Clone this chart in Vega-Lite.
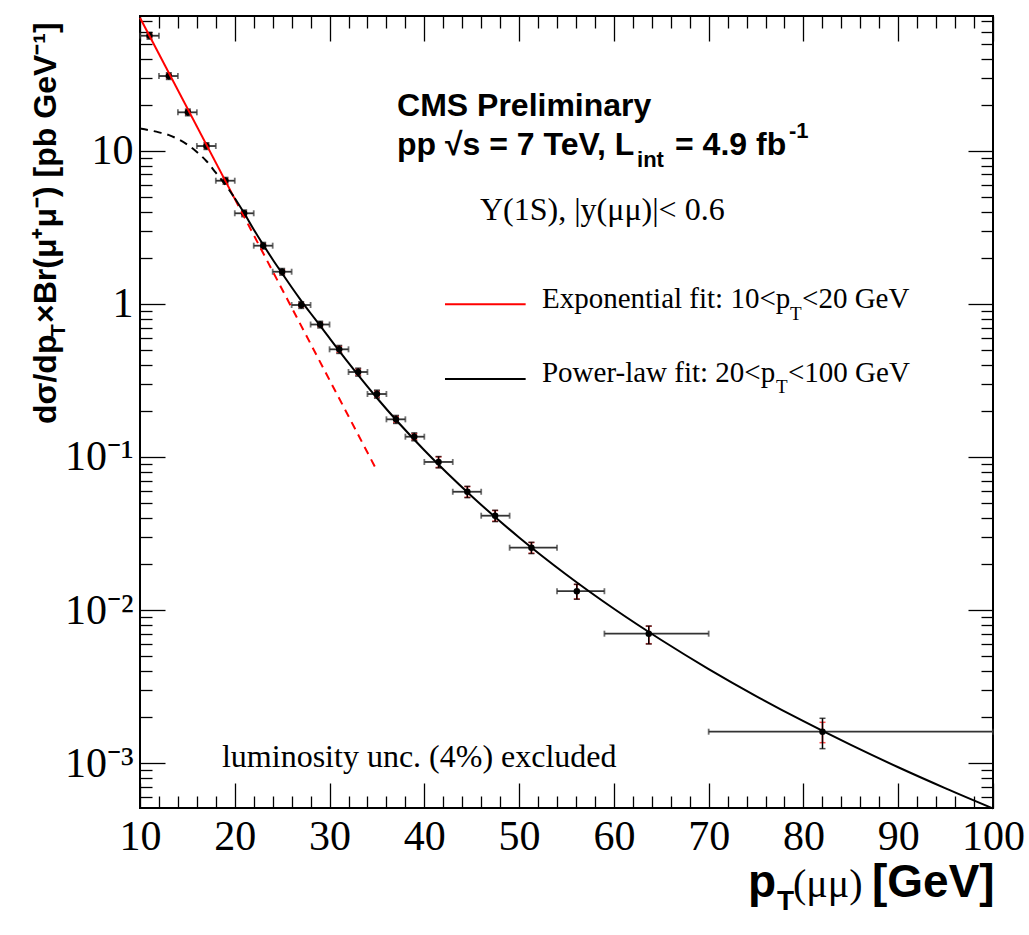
{
  "$schema": "https://vega.github.io/schema/vega-lite/v6.json",
  "width": 853,
  "height": 792,
  "autosize": {"type": "none"},
  "padding": {"left": 140, "top": 16, "right": 36, "bottom": 127},
  "background": "white",
  "config": {
    "view": {"stroke": "black", "strokeWidth": 2},
    "axis": {"grid": false, "domain": false, "tickColor": "black", "tickWidth": 1.3, "labelColor": "black", "labelFont": "Liberation Serif", "labelFontSize": 42, "labelOverlap": false, "labelFlush": false, "labelBound": false}
  },
  "datasets": {
    "pts": [
      {"x": 11.0, "xlo": 10, "xhi": 12, "y": 56.35, "ylo": 53.53, "yhi": 59.17, "slo": 54.66, "shi": 58.04},
      {"x": 13.04, "xlo": 12, "xhi": 14, "y": 30.74, "ylo": 29.2, "yhi": 32.28, "slo": 29.82, "shi": 31.66},
      {"x": 15.05, "xlo": 14, "xhi": 16, "y": 17.81, "ylo": 16.92, "yhi": 18.7, "slo": 17.28, "shi": 18.34},
      {"x": 17.01, "xlo": 16, "xhi": 18, "y": 10.73, "ylo": 10.19, "yhi": 11.27, "slo": 10.41, "shi": 11.05},
      {"x": 19.02, "xlo": 18, "xhi": 20, "y": 6.37, "ylo": 6.05, "yhi": 6.69, "slo": 6.18, "shi": 6.56},
      {"x": 20.99, "xlo": 20, "xhi": 22, "y": 3.903, "ylo": 3.708, "yhi": 4.098, "slo": 3.786, "shi": 4.02},
      {"x": 23.0, "xlo": 22, "xhi": 24, "y": 2.398, "ylo": 2.278, "yhi": 2.518, "slo": 2.326, "shi": 2.47},
      {"x": 25.0, "xlo": 24, "xhi": 26, "y": 1.621, "ylo": 1.54, "yhi": 1.702, "slo": 1.572, "shi": 1.67},
      {"x": 27.01, "xlo": 26, "xhi": 28, "y": 0.9829, "ylo": 0.9338, "yhi": 1.032, "slo": 0.9534, "shi": 1.0124},
      {"x": 29.01, "xlo": 28, "xhi": 30, "y": 0.733, "ylo": 0.6964, "yhi": 0.7697, "slo": 0.711, "shi": 0.755},
      {"x": 31.02, "xlo": 30, "xhi": 32, "y": 0.5048, "ylo": 0.4745, "yhi": 0.5351, "slo": 0.4821, "shi": 0.5275},
      {"x": 33.02, "xlo": 32, "xhi": 34, "y": 0.3589, "ylo": 0.3374, "yhi": 0.3804, "slo": 0.3428, "shi": 0.3751},
      {"x": 35.0, "xlo": 34, "xhi": 36, "y": 0.2578, "ylo": 0.2423, "yhi": 0.2733, "slo": 0.2462, "shi": 0.2694},
      {"x": 37.01, "xlo": 36, "xhi": 38, "y": 0.1762, "ylo": 0.1656, "yhi": 0.1868, "slo": 0.1683, "shi": 0.1841},
      {"x": 38.94, "xlo": 38, "xhi": 40, "y": 0.1357, "ylo": 0.1276, "yhi": 0.1438, "slo": 0.1296, "shi": 0.1418},
      {"x": 41.5, "xlo": 40, "xhi": 43, "y": 0.0928, "ylo": 0.0849, "yhi": 0.1007, "slo": 0.0854, "shi": 0.1002},
      {"x": 44.54, "xlo": 43, "xhi": 46, "y": 0.0593, "ylo": 0.05426, "yhi": 0.06434, "slo": 0.05456, "shi": 0.06404},
      {"x": 47.47, "xlo": 46, "xhi": 49, "y": 0.04137, "ylo": 0.03785, "yhi": 0.04489, "slo": 0.03806, "shi": 0.04468},
      {"x": 51.3, "xlo": 49, "xhi": 54, "y": 0.02557, "ylo": 0.0234, "yhi": 0.02774, "slo": 0.02352, "shi": 0.02762},
      {"x": 56.09, "xlo": 54, "xhi": 59, "y": 0.01329, "ylo": 0.01178, "yhi": 0.01475, "slo": 0.01183, "shi": 0.01471},
      {"x": 63.68, "xlo": 59, "xhi": 70, "y": 0.007019, "ylo": 0.00601, "yhi": 0.00788, "slo": 0.00604, "shi": 0.00785},
      {"x": 82.01, "xlo": 70, "xhi": 100, "y": 0.001608, "ylo": 0.001246, "yhi": 0.001967, "slo": 0.001363, "shi": 0.001852}
    ],
    "powlo": [
      {"x": 10, "y": 13.96}, {"x": 11, "y": 13.61}, {"x": 12, "y": 13.18}, {"x": 13, "y": 12.68},
      {"x": 14, "y": 11.91}, {"x": 15, "y": 10.96}, {"x": 16, "y": 9.82}, {"x": 17, "y": 8.57},
      {"x": 18, "y": 7.18}, {"x": 19, "y": 6.01}, {"x": 20, "y": 4.9}
    ],
    "powhi": [
      {"x": 20, "y": 4.9}, {"x": 21, "y": 3.908}, {"x": 22, "y": 3.062}, {"x": 23, "y": 2.432},
      {"x": 24, "y": 1.95}, {"x": 25, "y": 1.581}, {"x": 26, "y": 1.284}, {"x": 27, "y": 1.051},
      {"x": 28, "y": 0.8683}, {"x": 29, "y": 0.7211}, {"x": 30, "y": 0.597}, {"x": 32, "y": 0.4116},
      {"x": 35, "y": 0.2428}, {"x": 40, "y": 0.1107}, {"x": 45, "y": 0.05545}, {"x": 50, "y": 0.02983},
      {"x": 55, "y": 0.01703}, {"x": 60, "y": 0.01021}, {"x": 65, "y": 0.006383}, {"x": 70, "y": 0.004125},
      {"x": 75, "y": 0.002749}, {"x": 80, "y": 0.001882}, {"x": 85, "y": 0.001318}, {"x": 90, "y": 0.000942},
      {"x": 95, "y": 0.000686}, {"x": 100, "y": 0.000507}
    ],
    "expsolid": [{"x": 10, "y": 73.8}, {"x": 20, "y": 4.85}],
    "expdash": [{"x": 20, "y": 4.85}, {"x": 35, "y": 0.0815}],
    "legexp": [{"x": 42.18, "x2": 50.69, "y": 0.9932}],
    "legpow": [{"x": 42.18, "x2": 50.69, "y": 0.3231}],
    "txtbold": [
      {"x": 37.12, "y": 16.85, "t": "CMS Preliminary"},
      {"x": 37.12, "y": 9.374, "t": "pp √s = 7 TeV, L"},
      {"x": 66.45, "y": 9.374, "t": "= 4.9 fb"}
    ],
    "txtboldsmall": [
      {"x": 62.44, "y": 7.83, "t": "int"},
      {"x": 78.47, "y": 12.1, "t": "-1"}
    ],
    "txtserif": [
      {"x": 52.41, "y": 0.9352, "t": "Exponential fit: 10<p"},
      {"x": 79.85, "y": 0.9352, "t": "<20 GeV"},
      {"x": 52.41, "y": 0.3102, "t": "Power-law fit: 20<p"},
      {"x": 78.37, "y": 0.3102, "t": "<100 GeV"}
    ],
    "txtserifbig": [
      {"x": 45.87, "y": 3.527, "t": "Υ(1S), |y(μμ)|< 0.6"},
      {"x": 18.65, "y": 0.000946, "t": "luminosity unc. (4%) excluded"}
    ],
    "txtserifsub": [
      {"x": 78.58, "y": 0.7844, "t": "T"},
      {"x": 77.1, "y": 0.2617, "t": "T"}
    ],
    "xtitlebold": [
      {"x": 74.15, "y": 0.000134, "t": "p"},
      {"x": 87.23, "y": 0.000134, "t": "[GeV]"}
    ],
    "xtitlesub": [{"x": 77.21, "y": 0.00011, "t": "T"}],
    "xtitleserif": [{"x": 78.9, "y": 0.000134, "t": "(μμ)"}],
    "ytitle": [
      {"x": 1.137, "y": 0.1643, "t": "dσ/dp"},
      {"x": 1.137, "y": 0.7499, "t": "×Br(μ⁺μ⁻) [pb GeV⁻¹]"}
    ],
    "ytitlesub": [{"x": 2.087, "y": 0.6074, "t": "T"}]
  },
  "resolve": {"axis": {"x": "independent", "y": "independent"}},
  "layer": [
    {
      "data": {"name": "pts"},
      "mark": {"type": "errorbar", "ticks": true, "size": 6, "thickness": 1.5, "color": "#ff0000"},
      "encoding": {
        "x": {"field": "x", "type": "quantitative", "scale": {"type": "linear", "domain": [10, 100], "nice": false, "zero": false}, "axis": null},
        "y": {"field": "slo", "type": "quantitative", "scale": {"type": "log", "domain": [0.0005105, 75.8], "nice": false}, "axis": null},
        "y2": {"field": "shi"}
      }
    },
    {
      "data": {"name": "pts"},
      "mark": {"type": "errorbar", "ticks": true, "size": 6, "thickness": 1.5, "color": "black"},
      "encoding": {
        "x": {"field": "x", "type": "quantitative", "scale": {"type": "linear", "domain": [10, 100], "nice": false, "zero": false}, "axis": null},
        "y": {"field": "ylo", "type": "quantitative", "scale": {"type": "log", "domain": [0.0005105, 75.8], "nice": false}, "axis": null},
        "y2": {"field": "yhi"}
      }
    },
    {
      "data": {"name": "pts"},
      "mark": {"type": "errorbar", "ticks": true, "size": 6, "thickness": 1.8, "color": "#333333"},
      "encoding": {
        "x": {"field": "xlo", "type": "quantitative", "scale": {"type": "linear", "domain": [10, 100], "nice": false, "zero": false}, "axis": null},
        "x2": {"field": "xhi"},
        "y": {"field": "y", "type": "quantitative", "scale": {"type": "log", "domain": [0.0005105, 75.8], "nice": false}, "axis": null}
      }
    },
    {
      "data": {"name": "pts"},
      "mark": {"type": "point", "filled": true, "shape": "circle", "size": 42, "color": "black", "opacity": 1},
      "encoding": {
        "x": {"field": "x", "type": "quantitative", "scale": {"type": "linear", "domain": [10, 100], "nice": false, "zero": false},
              "axis": {"orient": "bottom", "values": [10, 20, 30, 40, 50, 60, 70, 80, 90, 100], "tickSize": -25, "labelPadding": 33, "title": null}},
        "y": {"field": "y", "type": "quantitative", "scale": {"type": "log", "domain": [0.0005105, 75.8], "nice": false},
              "axis": {"orient": "left", "values": [0.001, 0.01, 0.1, 1, 10], "tickSize": -25, "labelPadding": 32, "labelAlign": "right", "labelBaseline": "middle", "title": null,
                       "labelExpr": "datum.value >= 5 ? '10' : datum.value >= 0.5 ? '1' : datum.value >= 0.05 ? '10⁻¹' : datum.value >= 0.005 ? '10⁻²' : '10⁻³'"}}
      }
    },
    {
      "data": {"name": "expsolid"},
      "mark": {"type": "line", "color": "#ff0000", "strokeWidth": 2},
      "encoding": {
        "x": {"field": "x", "type": "quantitative", "scale": {"type": "linear", "domain": [10, 100], "nice": false, "zero": false},
              "axis": {"orient": "bottom", "values": [12, 14, 16, 18, 22, 24, 26, 28, 32, 34, 36, 38, 42, 44, 46, 48, 52, 54, 56, 58, 62, 64, 66, 68, 72, 74, 76, 78, 82, 84, 86, 88, 92, 94, 96, 98], "tickSize": -12, "labels": false, "title": null}},
        "y": {"field": "y", "type": "quantitative", "scale": {"type": "log", "domain": [0.0005105, 75.8], "nice": false},
              "axis": {"orient": "left", "values": [0.0006, 0.0007, 0.0008, 0.0009, 0.002, 0.003, 0.004, 0.005, 0.006, 0.007, 0.008, 0.009, 0.02, 0.03, 0.04, 0.05, 0.06, 0.07, 0.08, 0.09, 0.2, 0.3, 0.4, 0.5, 0.6, 0.7, 0.8, 0.9, 2, 3, 4, 5, 6, 7, 8, 9, 20, 30, 40, 50, 60, 70], "tickSize": -12, "labels": false, "title": null}}
      }
    },
    {
      "data": {"name": "expdash"},
      "mark": {"type": "line", "color": "#ff0000", "strokeWidth": 2, "strokeDash": [8, 6]},
      "encoding": {
        "x": {"field": "x", "type": "quantitative", "scale": {"type": "linear", "domain": [10, 100], "nice": false, "zero": false}, "axis": null},
        "y": {"field": "y", "type": "quantitative", "scale": {"type": "log", "domain": [0.0005105, 75.8], "nice": false}, "axis": null}
      }
    },
    {
      "data": {"name": "powlo"},
      "mark": {"type": "line", "color": "black", "strokeWidth": 2, "strokeDash": [8, 6], "interpolate": "monotone"},
      "encoding": {
        "x": {"field": "x", "type": "quantitative", "scale": {"type": "linear", "domain": [10, 100], "nice": false, "zero": false},
              "axis": {"orient": "top", "values": [12, 14, 16, 18, 22, 24, 26, 28, 32, 34, 36, 38, 42, 44, 46, 48, 52, 54, 56, 58, 62, 64, 66, 68, 72, 74, 76, 78, 82, 84, 86, 88, 92, 94, 96, 98], "tickSize": -12, "labels": false, "title": null}},
        "y": {"field": "y", "type": "quantitative", "scale": {"type": "log", "domain": [0.0005105, 75.8], "nice": false},
              "axis": {"orient": "right", "values": [0.0006, 0.0007, 0.0008, 0.0009, 0.002, 0.003, 0.004, 0.005, 0.006, 0.007, 0.008, 0.009, 0.02, 0.03, 0.04, 0.05, 0.06, 0.07, 0.08, 0.09, 0.2, 0.3, 0.4, 0.5, 0.6, 0.7, 0.8, 0.9, 2, 3, 4, 5, 6, 7, 8, 9, 20, 30, 40, 50, 60, 70], "tickSize": -12, "labels": false, "title": null}}
      }
    },
    {
      "data": {"name": "powhi"},
      "mark": {"type": "line", "color": "black", "strokeWidth": 2, "interpolate": "monotone"},
      "encoding": {
        "x": {"field": "x", "type": "quantitative", "scale": {"type": "linear", "domain": [10, 100], "nice": false, "zero": false},
              "axis": {"orient": "top", "values": [10, 20, 30, 40, 50, 60, 70, 80, 90, 100], "tickSize": -25, "labels": false, "title": null}},
        "y": {"field": "y", "type": "quantitative", "scale": {"type": "log", "domain": [0.0005105, 75.8], "nice": false},
              "axis": {"orient": "right", "values": [0.001, 0.01, 0.1, 1, 10], "tickSize": -25, "labels": false, "title": null}}
      }
    },
    {
      "data": {"name": "legexp"},
      "mark": {"type": "rule", "color": "#ff0000", "strokeWidth": 2},
      "encoding": {
        "x": {"field": "x", "type": "quantitative", "scale": {"type": "linear", "domain": [10, 100], "nice": false, "zero": false}, "axis": null},
        "x2": {"field": "x2"},
        "y": {"field": "y", "type": "quantitative", "scale": {"type": "log", "domain": [0.0005105, 75.8], "nice": false}, "axis": null}
      }
    },
    {
      "data": {"name": "legpow"},
      "mark": {"type": "rule", "color": "black", "strokeWidth": 2},
      "encoding": {
        "x": {"field": "x", "type": "quantitative", "scale": {"type": "linear", "domain": [10, 100], "nice": false, "zero": false}, "axis": null},
        "x2": {"field": "x2"},
        "y": {"field": "y", "type": "quantitative", "scale": {"type": "log", "domain": [0.0005105, 75.8], "nice": false}, "axis": null}
      }
    },
    {
      "data": {"name": "txtbold"},
      "mark": {"type": "text", "font": "Liberation Sans", "fontWeight": "bold", "fontSize": 32, "align": "left", "baseline": "alphabetic", "color": "black"},
      "encoding": {
        "x": {"field": "x", "type": "quantitative", "scale": {"type": "linear", "domain": [10, 100], "nice": false, "zero": false}, "axis": null},
        "y": {"field": "y", "type": "quantitative", "scale": {"type": "log", "domain": [0.0005105, 75.8], "nice": false}, "axis": null},
        "text": {"field": "t"}
      }
    },
    {
      "data": {"name": "txtboldsmall"},
      "mark": {"type": "text", "font": "Liberation Sans", "fontWeight": "bold", "fontSize": 22, "align": "left", "baseline": "alphabetic", "color": "black"},
      "encoding": {
        "x": {"field": "x", "type": "quantitative", "scale": {"type": "linear", "domain": [10, 100], "nice": false, "zero": false}, "axis": null},
        "y": {"field": "y", "type": "quantitative", "scale": {"type": "log", "domain": [0.0005105, 75.8], "nice": false}, "axis": null},
        "text": {"field": "t"}
      }
    },
    {
      "data": {"name": "txtserif"},
      "mark": {"type": "text", "font": "Liberation Serif", "fontSize": 29, "align": "left", "baseline": "alphabetic", "color": "black"},
      "encoding": {
        "x": {"field": "x", "type": "quantitative", "scale": {"type": "linear", "domain": [10, 100], "nice": false, "zero": false}, "axis": null},
        "y": {"field": "y", "type": "quantitative", "scale": {"type": "log", "domain": [0.0005105, 75.8], "nice": false}, "axis": null},
        "text": {"field": "t"}
      }
    },
    {
      "data": {"name": "txtserifbig"},
      "mark": {"type": "text", "font": "Liberation Serif", "fontSize": 32, "align": "left", "baseline": "alphabetic", "color": "black"},
      "encoding": {
        "x": {"field": "x", "type": "quantitative", "scale": {"type": "linear", "domain": [10, 100], "nice": false, "zero": false}, "axis": null},
        "y": {"field": "y", "type": "quantitative", "scale": {"type": "log", "domain": [0.0005105, 75.8], "nice": false}, "axis": null},
        "text": {"field": "t"}
      }
    },
    {
      "data": {"name": "txtserifsub"},
      "mark": {"type": "text", "font": "Liberation Serif", "fontSize": 19, "align": "left", "baseline": "alphabetic", "color": "black"},
      "encoding": {
        "x": {"field": "x", "type": "quantitative", "scale": {"type": "linear", "domain": [10, 100], "nice": false, "zero": false}, "axis": null},
        "y": {"field": "y", "type": "quantitative", "scale": {"type": "log", "domain": [0.0005105, 75.8], "nice": false}, "axis": null},
        "text": {"field": "t"}
      }
    },
    {
      "data": {"name": "xtitlebold"},
      "mark": {"type": "text", "font": "Liberation Sans", "fontWeight": "bold", "fontSize": 46, "align": "left", "baseline": "alphabetic", "color": "black"},
      "encoding": {
        "x": {"field": "x", "type": "quantitative", "scale": {"type": "linear", "domain": [10, 100], "nice": false, "zero": false}, "axis": null},
        "y": {"field": "y", "type": "quantitative", "scale": {"type": "log", "domain": [0.0005105, 75.8], "nice": false}, "axis": null},
        "text": {"field": "t"}
      }
    },
    {
      "data": {"name": "xtitlesub"},
      "mark": {"type": "text", "font": "Liberation Sans", "fontWeight": "bold", "fontSize": 28, "align": "left", "baseline": "alphabetic", "color": "black"},
      "encoding": {
        "x": {"field": "x", "type": "quantitative", "scale": {"type": "linear", "domain": [10, 100], "nice": false, "zero": false}, "axis": null},
        "y": {"field": "y", "type": "quantitative", "scale": {"type": "log", "domain": [0.0005105, 75.8], "nice": false}, "axis": null},
        "text": {"field": "t"}
      }
    },
    {
      "data": {"name": "xtitleserif"},
      "mark": {"type": "text", "font": "Liberation Serif", "fontSize": 40, "align": "left", "baseline": "alphabetic", "color": "black"},
      "encoding": {
        "x": {"field": "x", "type": "quantitative", "scale": {"type": "linear", "domain": [10, 100], "nice": false, "zero": false}, "axis": null},
        "y": {"field": "y", "type": "quantitative", "scale": {"type": "log", "domain": [0.0005105, 75.8], "nice": false}, "axis": null},
        "text": {"field": "t"}
      }
    },
    {
      "data": {"name": "ytitle"},
      "mark": {"type": "text", "font": "Liberation Sans", "fontWeight": "bold", "fontSize": 32, "align": "left", "baseline": "alphabetic", "angle": 270, "color": "black"},
      "encoding": {
        "x": {"field": "x", "type": "quantitative", "scale": {"type": "linear", "domain": [10, 100], "nice": false, "zero": false}, "axis": null},
        "y": {"field": "y", "type": "quantitative", "scale": {"type": "log", "domain": [0.0005105, 75.8], "nice": false}, "axis": null},
        "text": {"field": "t"}
      }
    },
    {
      "data": {"name": "ytitlesub"},
      "mark": {"type": "text", "font": "Liberation Sans", "fontWeight": "bold", "fontSize": 21, "align": "left", "baseline": "alphabetic", "angle": 270, "color": "black"},
      "encoding": {
        "x": {"field": "x", "type": "quantitative", "scale": {"type": "linear", "domain": [10, 100], "nice": false, "zero": false}, "axis": null},
        "y": {"field": "y", "type": "quantitative", "scale": {"type": "log", "domain": [0.0005105, 75.8], "nice": false}, "axis": null},
        "text": {"field": "t"}
      }
    }
  ]
}
